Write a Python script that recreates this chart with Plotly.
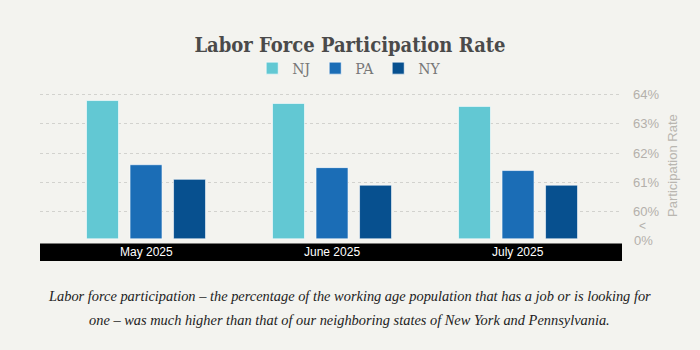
import plotly.graph_objects as go

months = ["May 2025", "June 2025", "July 2025"]
states = ["NJ", "PA", "NY"]
nj = [63.8, 63.7, 63.6]
pa = [61.6, 61.5, 61.4]
ny = [61.1, 60.9, 60.9]
colors = ["#62c8d3", "#1b6db6", "#07508f"]
tick_vals = [60, 61, 62, 63, 64]
tick_text = ["60%", "61%", "62%", "63%", "64%"]
base_val = 59.06
title = "Labor Force Participation Rate"
caption_lines = [
    "Labor force participation – the percentage of the working age population that has a job or is looking for",
    "one – was much higher than that of our neighboring states of New York and Pennsylvania.",
]

series = [nj, pa, ny]
fig = go.Figure()
for name, vals, col in zip(states, series, colors):
    fig.add_trace(go.Bar(
        name=name, x=list(range(len(months))), y=[v - base_val for v in vals], base=base_val,
        marker=dict(color=col, line=dict(color="rgba(255,255,255,0.6)", width=1)),
        hoverinfo="skip",
    ))

bg = "#f3f3ef"
fig.update_layout(
    width=700, height=350,
    paper_bgcolor=bg, plot_bgcolor=bg,
    margin=dict(l=40, r=78, t=88, b=89),
    barmode="group", bargap=0.298, bargroupgap=0.265,
    showlegend=True,
    legend=dict(orientation="h", x=0.527, xanchor="center", y=1.02, yanchor="bottom",
                font=dict(family="DejaVu Serif", size=14, color="#777777"),
                entrywidth=18, itemwidth=30, bgcolor="rgba(0,0,0,0)", traceorder="normal"),
    title=dict(text=title, x=0.5, xanchor="center", y=0.872, yanchor="middle",
               font=dict(family="DejaVu Serif Condensed", size=20, color="#4a4a4a", weight="bold")),
    xaxis=dict(range=[-0.570, 2.559], showgrid=False, zeroline=False, showticklabels=False,
               showline=False, ticks=""),
    yaxis=dict(range=[58.30, 64.23], side="right", tickvals=tick_vals, ticktext=tick_text,
               showgrid=True, gridcolor="#d2d2ce", griddash="dot", gridwidth=1,
               zeroline=False, showline=False, ticks="", ticklabelstandoff=10,
               tickfont=dict(family="Liberation Sans", size=13, color="#b3b0ab")),
)

# y axis title placed as rotated text
fig.add_annotation(xref="paper", x=1, xanchor="center", xshift=51, yref="y", y=61.56,
                   text="Participation Rate", textangle=-90, showarrow=False,
                   font=dict(family="Liberation Sans", size=13, color="#b9b6b0"))

# black label band under the bars
fig.add_shape(type="rect", xref="paper", yref="y", x0=0, x1=1, y0=58.30, y1=58.90,
              fillcolor="#000000", line=dict(width=0), layer="above")
for i, m in enumerate(months):
    fig.add_annotation(x=i, y=58.60, xref="x", yref="y", text=m, showarrow=False,
                       font=dict(family="Liberation Sans", size=12, color="#ffffff"))

# axis break marker and zero label
fig.add_annotation(xref="paper", x=1, xanchor="left", xshift=15, y=59.50, yref="y",
                   text="<", showarrow=False,
                   font=dict(family="Liberation Sans", size=12, color="#b3b0ab"))
fig.add_annotation(xref="paper", x=1, xanchor="left", xshift=10, y=58.99, yref="y",
                   text="0%", showarrow=False,
                   font=dict(family="Liberation Sans", size=13, color="#b3b0ab"))

for line, ypx in zip(caption_lines, [296, 319.5]):
    fig.add_annotation(xref="paper", yref="paper", x=0.5, xanchor="center", xshift=18,
                       y=-(ypx - 261) / 173, yanchor="middle",
                       text="<i>" + line + "</i>", showarrow=False,
                       font=dict(family="Liberation Serif", size=14.4, color="#222222"))

fig.write_html("out.html")
